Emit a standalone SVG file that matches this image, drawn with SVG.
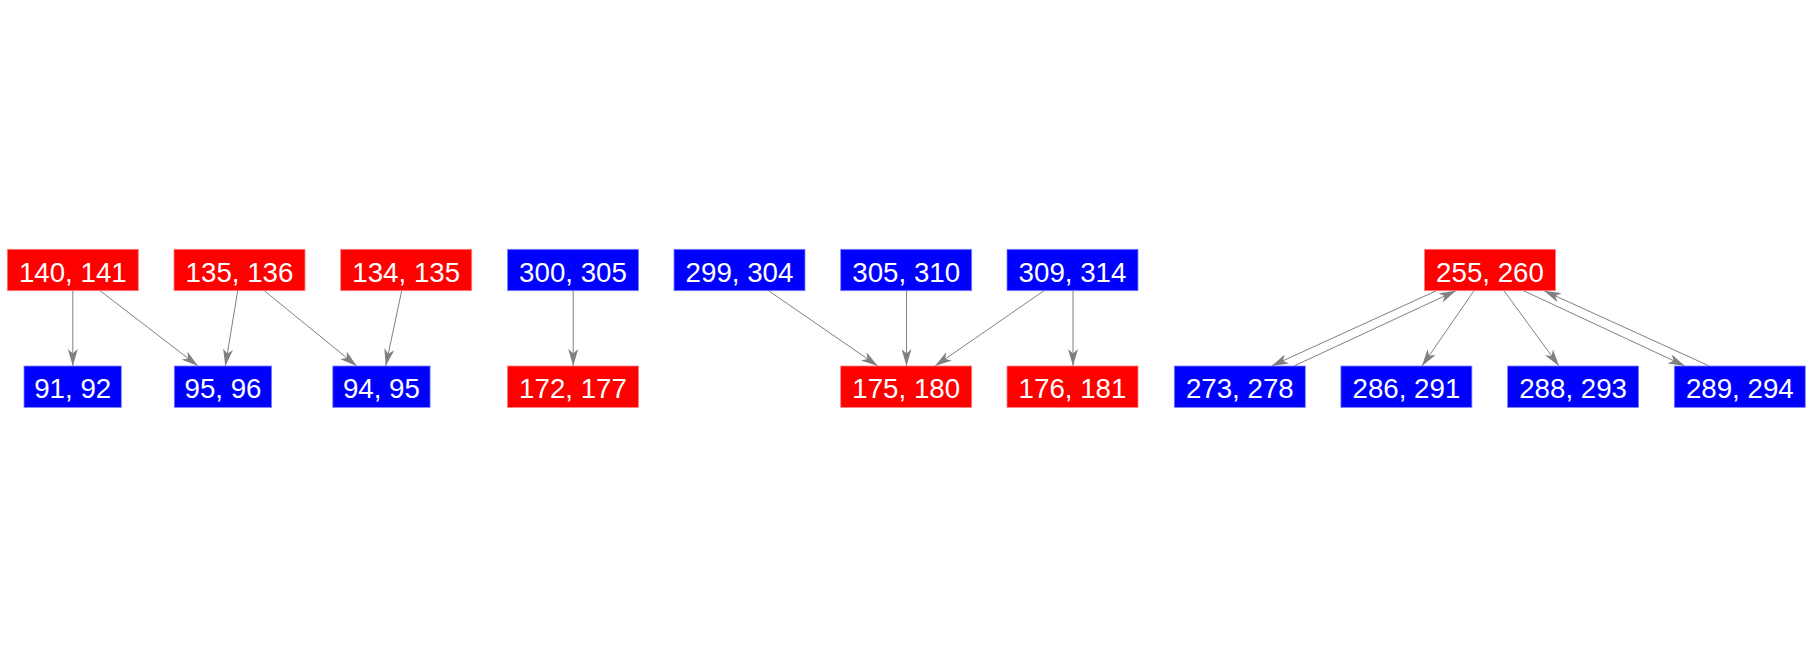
<svg xmlns="http://www.w3.org/2000/svg" width="1812" height="656" viewBox="0 0 1812 656">
<style>
.r{fill:#ff0000;stroke:#ff8080;stroke-width:0.8}
.b{fill:#0000ff;stroke:#8080ff;stroke-width:0.8}
text{font-family:"Liberation Sans",Arial,sans-serif;font-size:27.7px;fill:#ffffff;text-anchor:middle}
.e line{stroke:#808080;stroke-width:1;fill:none;marker-end:url(#a)}
</style>
<defs>
<marker id="a" markerWidth="18" markerHeight="10" refX="17" refY="5" orient="auto" markerUnits="userSpaceOnUse" viewBox="0 0 18 10"><path d="M17,5 L0,0 L4.5,5 L0,10 Z" fill="#808080"/></marker>
</defs>
<rect width="1812" height="656" fill="#ffffff"/>
<g id="edges" class="e">
<line x1="72.8" y1="290.7" x2="72.8" y2="366"/>
<line x1="100" y1="290.7" x2="198" y2="366"/>
<line x1="237.7" y1="290.7" x2="225.3" y2="366"/>
<line x1="264.3" y1="290.7" x2="356.7" y2="366"/>
<line x1="401.7" y1="290.7" x2="385.7" y2="366"/>
<line x1="573.2" y1="290.7" x2="573.2" y2="366"/>
<line x1="768.5" y1="290.7" x2="877.8" y2="366"/>
<line x1="906.5" y1="290.7" x2="906.5" y2="366"/>
<line x1="1044" y1="290.7" x2="935" y2="366"/>
<line x1="1073" y1="290.7" x2="1073" y2="366"/>
<line x1="1436.5" y1="290.7" x2="1271.5" y2="366"/>
<line x1="1294" y1="366" x2="1456" y2="290.7"/>
<line x1="1474" y1="290.7" x2="1422" y2="366"/>
<line x1="1504" y1="290.7" x2="1559" y2="366"/>
<line x1="1523.5" y1="290.7" x2="1685" y2="366"/>
<line x1="1709.3" y1="366" x2="1544" y2="290.7"/>
</g>
<g id="n140"><rect class="r" x="7.3" y="249.3" width="131" height="41.4"/><text x="72.8" y="281.7">140, 141</text></g>
<g id="n135"><rect class="r" x="174" y="249.3" width="131" height="41.4"/><text x="239.5" y="281.7">135, 136</text></g>
<g id="n134"><rect class="r" x="340.7" y="249.3" width="131" height="41.4"/><text x="406.2" y="281.7">134, 135</text></g>
<g id="n300"><rect class="b" x="507.5" y="249.3" width="131" height="41.4"/><text x="573" y="281.7">300, 305</text></g>
<g id="n299"><rect class="b" x="674" y="249.3" width="131" height="41.4"/><text x="739.5" y="281.7">299, 304</text></g>
<g id="n305"><rect class="b" x="840.7" y="249.3" width="131" height="41.4"/><text x="906.2" y="281.7">305, 310</text></g>
<g id="n309"><rect class="b" x="1007" y="249.3" width="131" height="41.4"/><text x="1072.5" y="281.7">309, 314</text></g>
<g id="n255"><rect class="r" x="1424.5" y="249.3" width="131" height="41.4"/><text x="1490" y="281.7">255, 260</text></g>
<g id="n91"><rect class="b" x="24" y="366" width="97.3" height="41.4"/><text x="72.7" y="398.4">91, 92</text></g>
<g id="n95"><rect class="b" x="174.3" y="366" width="97.3" height="41.4"/><text x="223" y="398.4">95, 96</text></g>
<g id="n94"><rect class="b" x="332.8" y="366" width="97.3" height="41.4"/><text x="381.4" y="398.4">94, 95</text></g>
<g id="n172"><rect class="r" x="507.5" y="366" width="131" height="41.4"/><text x="573" y="398.4">172, 177</text></g>
<g id="n175"><rect class="r" x="840.7" y="366" width="131" height="41.4"/><text x="906.2" y="398.4">175, 180</text></g>
<g id="n176"><rect class="r" x="1007" y="366" width="131" height="41.4"/><text x="1072.5" y="398.4">176, 181</text></g>
<g id="n273"><rect class="b" x="1174.3" y="366" width="131" height="41.4"/><text x="1239.8" y="398.4">273, 278</text></g>
<g id="n286"><rect class="b" x="1340.9" y="366" width="131" height="41.4"/><text x="1406.4" y="398.4">286, 291</text></g>
<g id="n288"><rect class="b" x="1507.6" y="366" width="131" height="41.4"/><text x="1573.1" y="398.4">288, 293</text></g>
<g id="n289"><rect class="b" x="1674.3" y="366" width="131" height="41.4"/><text x="1739.8" y="398.4">289, 294</text></g>
</svg>
